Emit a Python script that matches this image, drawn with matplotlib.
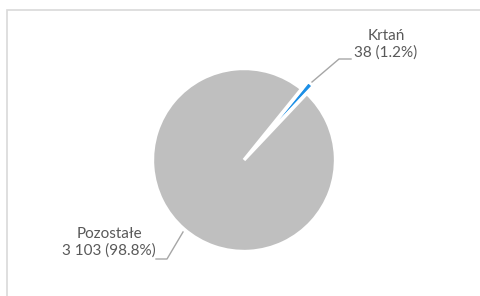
import matplotlib.pyplot as plt
from matplotlib.patches import Rectangle

# dane
kategorie = ['Krtań', 'Pozostałe']
wartosci = [38, 3103]
etykiety = ['Krtań\n38 (1.2%)', 'Pozostałe\n3 103 (98.8%)']
kolory = ['#1C8FE6', '#BFBFBF']

W, H = 480, 296
fig = plt.figure(figsize=(W / 100, H / 100), dpi=100)
ax = fig.add_axes([0, 0, 1, 1])

# ramka wykresu (ucięta z prawej i z dołu)
fig.patches.append(Rectangle((7 / W, -0.1), 1.2, 1 - 10 / H + 0.1,
                             transform=fig.transFigure, fill=False,
                             edgecolor='#D9D9D9', linewidth=1.2))

cx, cy, r = 244, H - 160, 91.5
ax.pie(wartosci, colors=kolory, startangle=51, counterclock=False,
       center=(cx, cy), radius=r, explode=[10, 0],
       wedgeprops=dict(edgecolor='white', linewidth=2.4))

ax.set_xlim(0, W)
ax.set_ylim(0, H)
ax.set_aspect('auto')
ax.axis('off')

tekst = '#595959'
linia = '#A6A6A6'
font = 'Lato'

# Krtań
ax.plot([312, 339, 351], [H - 82, H - 59, H - 59], color=linia, lw=1)
ax.text(386, H - 44, etykiety[0], ha='center', va='center', fontsize=11,
        color=tekst, family=font, linespacing=1.2)

# Pozostałe
ax.plot([183, 167, 156], [H - 232, H - 259, H - 259], color=linia, lw=1)
ax.text(109, H - 242, etykiety[1], ha='center', va='center', fontsize=11,
        color=tekst, family=font, linespacing=1.2)

fig.savefig('out.png', dpi=100)
